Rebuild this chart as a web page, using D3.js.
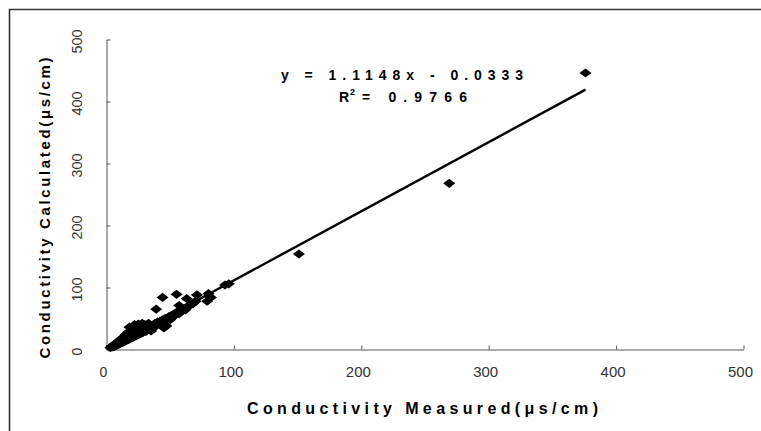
<!DOCTYPE html>
<html>
<head>
<meta charset="utf-8">
<script src="https://cdn.jsdelivr.net/npm/d3@7"></script>
<style>
  html, body { margin: 0; padding: 0; background: #fff; }
  svg { display: block; }
  text { font-family: "Liberation Sans", Arial, sans-serif; }
</style>
</head>
<body>
<svg id="chart" width="761" height="431"></svg>
<script>
// Measured vs. calculated conductivity (µS/cm)
const measured = [
  3, 4, 5, 5, 6, 6, 7, 7, 8, 8, 9, 9, 10, 10,
  11, 11, 12, 12, 13, 13, 14, 14, 15, 15, 16, 16, 17, 17, 18, 18, 19, 19, 20, 20,
  21, 21, 22, 22, 23, 23, 24, 24, 25, 25, 26, 26, 27, 27, 28, 28, 29, 29, 30, 30,
  31, 31, 32, 32, 33, 33, 34, 35, 35, 36, 37, 38, 39, 39, 40, 41, 42, 43, 44, 44, 45, 45, 46, 47,
  48, 49, 50, 51, 52, 53, 55, 55, 57, 57, 59, 60, 62, 63, 64, 66, 68, 70, 71, 79, 80, 82, 93, 96,
  151, 269, 376
];
const calculated = [
  3, 5, 4, 6, 5, 8, 6, 9, 7, 11, 8, 12, 9, 14,
  10, 16, 11, 18, 12, 15, 13, 20, 14, 24, 15, 19, 16, 28, 17, 36, 18, 24, 19, 30,
  20, 27, 21, 40, 22, 33, 23, 28, 24, 41, 25, 35, 26, 30, 27, 42, 28, 36, 30, 40,
  29, 35, 31, 38, 33, 42, 32, 36, 30, 38, 35, 42, 40, 65, 44, 42, 46, 44, 84, 48, 35, 45, 50, 38,
  50, 53, 48, 55, 52, 57, 89, 60, 71, 58, 62, 66, 64, 82, 70, 72, 74, 78, 88, 78, 90, 84, 104, 106,
  154, 268, 446
];

// Linear fit shown on the chart
const slope = 1.1148;
const intercept = -0.0333;
const equationLabel = "y = 1.1148x - 0.0333";
const r2Value = "0.9766";

const xTicks = [0, 100, 200, 300, 400, 500];
const yTicks = [0, 100, 200, 300, 400, 500];
const xTitle = "Conductivity Measured(\u03BCs/cm)";
const yTitle = "Conductivity Calculated(\u03BCs/cm)";

const svg = d3.select("#chart");

// outer chart frame (runs past the right and bottom edges)
svg.append("path")
  .attr("d", "M9.5,440 L9.5,9.5 L770,9.5")
  .attr("fill", "none")
  .attr("stroke", "#333")
  .attr("stroke-width", 1.6);

const x = d3.scaleLinear().domain([0, 500]).range([106.5, 743.5]);
const y = d3.scaleLinear().domain([0, 500]).range([349.5, 39.5]);

// x axis, ticks pointing into the plot
const xAxis = svg.append("g")
  .attr("transform", `translate(0,${y(0)})`)
  .call(d3.axisBottom(x).tickValues(xTicks).tickSizeInner(-4).tickSizeOuter(0).tickFormat(""));
xAxis.select(".domain").attr("stroke", "#555");
xAxis.selectAll(".tick line").attr("stroke", "#555");

// y axis, ticks pointing into the plot
const yAxis = svg.append("g")
  .attr("transform", `translate(${x(0)},0)`)
  .call(d3.axisLeft(y).tickValues(yTicks).tickSizeInner(-4).tickSizeOuter(0).tickFormat(""));
yAxis.select(".domain").attr("stroke", "#555");
yAxis.selectAll(".tick line").attr("stroke", "#555");

// tick labels
svg.append("g").selectAll("text")
  .data(xTicks).join("text")
  .attr("x", d => x(d) - 3)
  .attr("y", 372)
  .attr("text-anchor", "middle")
  .attr("dominant-baseline", "central")
  .attr("font-size", 14)
  .attr("fill", "#333")
  .attr("textLength", 25)
  .attr("lengthAdjust", "spacingAndGlyphs")
  .text(d => d3.format("d")(d))
  .each(function(d) {
    if (String(d).length === 1) d3.select(this).attr("textLength", null);
  });

svg.append("g").selectAll("text")
  .data(yTicks).join("text")
  .attr("transform", d => `translate(77,${y(d) + 2}) rotate(-90)`)
  .attr("text-anchor", "middle")
  .attr("dominant-baseline", "central")
  .attr("font-size", 14)
  .attr("fill", "#333")
  .attr("textLength", d => String(d).length > 1 ? 24 : null)
  .attr("lengthAdjust", "spacingAndGlyphs")
  .text(d => d3.format("d")(d));

// axis titles
svg.append("text")
  .attr("x", 422.5)
  .attr("y", 408)
  .attr("text-anchor", "middle")
  .attr("dominant-baseline", "central")
  .attr("font-size", 16)
  .attr("font-weight", "bold")
  .attr("textLength", 351)
  .attr("lengthAdjust", "spacing")
  .text(xTitle);

svg.append("text")
  .attr("transform", "translate(44,208) rotate(-90)")
  .attr("text-anchor", "middle")
  .attr("dominant-baseline", "central")
  .attr("font-size", 15)
  .attr("font-weight", "bold")
  .attr("textLength", 301)
  .attr("lengthAdjust", "spacing")
  .text(yTitle);

// trend line over the measured range
const [xMin, xMax] = d3.extent(measured);
svg.append("line")
  .attr("x1", x(xMin)).attr("y1", y(slope * xMin + intercept))
  .attr("x2", x(xMax)).attr("y2", y(slope * xMax + intercept))
  .attr("stroke", "#000")
  .attr("stroke-width", 2.4);

// diamond markers
const diamond = "M0,-4.6 L6,0 L0,4.6 L-6,0 Z";
svg.append("g").selectAll("path")
  .data(measured.map((m, i) => [m, calculated[i]]))
  .join("path")
  .attr("d", diamond)
  .attr("transform", d => `translate(${x(d[0])},${y(d[1])})`)
  .attr("fill", "#000");

// regression equation and R²
svg.append("text")
  .attr("x", 281).attr("y", 75)
  .attr("dominant-baseline", "central")
  .attr("font-size", 14)
  .attr("font-weight", "bold")
  .attr("textLength", 242)
  .attr("lengthAdjust", "spacing")
  .text(equationLabel);

const r2 = svg.append("g");
r2.append("text")
  .attr("x", 339).attr("y", 97)
  .attr("dominant-baseline", "central")
  .attr("font-size", 14)
  .attr("font-weight", "bold")
  .text("R");
r2.append("text")
  .attr("x", 350).attr("y", 92)
  .attr("dominant-baseline", "central")
  .attr("font-size", 9)
  .attr("font-weight", "bold")
  .text("2");
r2.append("text")
  .attr("x", 362).attr("y", 97)
  .attr("dominant-baseline", "central")
  .attr("font-size", 14)
  .attr("font-weight", "bold")
  .attr("textLength", 105)
  .attr("lengthAdjust", "spacing")
  .text("= " + r2Value);
</script>
</body>
</html>
